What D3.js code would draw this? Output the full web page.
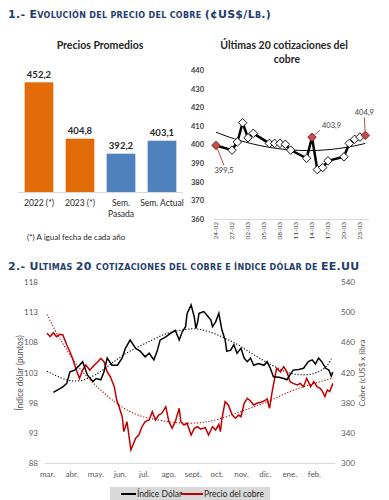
<!DOCTYPE html>
<html>
<head>
<meta charset="utf-8">
<script src="https://cdn.jsdelivr.net/npm/d3@7"></script>
<style>
  body { margin: 0; background: #fff; }
  svg { display: block; }
  text { font-family: Lato, "Open Sans", sans-serif; }
</style>
</head>
<body>
<svg id="chart" width="389" height="500"></svg>
<script>
// ---------- data ----------
var barCats = ["2022 (*)", "2023 (*)", "Sem.|Pasada", "Sem. Actual"];
var barValues = [452.2, 404.8, 392.2, 403.1];
var barColors = ["#E36C0A", "#E36C0A", "#4F81BD", "#4F81BD"];

// ultimas cotizaciones (dd-mm, 2023)
var lastDates = ["24-02", "27-02", "28-02", "01-03", "02-03", "03-03", "06-03", "07-03", "08-03", "09-03", "10-03",
                 "13-03", "14-03", "15-03", "16-03", "17-03", "20-03", "21-03", "22-03", "23-03", "24-03"];
var lastValues = [399.5, 397.0, 401.3, 411.7, 403.6, 406.0, 400.6, 400.6, 400.6, 400.1, 397.0,
                  392.6, 403.9, 386.5, 387.6, 391.2, 393.4, 400.6, 402.8, 404.0, 404.9];
var lastTicks = ["24-02", "27-02", "02-03", "05-03", "08-03", "11-03", "14-03", "17-03", "20-03", "23-03"];
var lastYTicks = [360, 370, 380, 390, 400, 410, 420, 430, 440];
var lastLabelled = [0, 12, 20];

// indice dolar (puntos)
var dollar = [["2022-03-09",99.7],["2022-03-21",100.6],["2022-03-26",101.2],["2022-03-30",103.1],["2022-04-05",103.4],
  ["2022-04-11",104.2],["2022-04-15",104.8],["2022-04-21",102.6],["2022-04-28",101.5],["2022-05-02",102.0],
  ["2022-05-08",101.8],["2022-05-12",103.1],["2022-05-16",105.4],["2022-05-22",104.2],["2022-05-29",104.2],
  ["2022-06-04",105.4],["2022-06-08",107.0],["2022-06-14",108.4],["2022-06-21",107.0],["2022-06-27",106.5],
  ["2022-07-03",105.6],["2022-07-08",106.2],["2022-07-14",105.1],["2022-07-18",106.5],["2022-07-22",108.4],
  ["2022-07-29",108.9],["2022-08-04",109.5],["2022-08-10",110.0],["2022-08-15",108.4],["2022-08-19",109.8],
  ["2022-08-23",110.6],["2022-08-25",112.8],["2022-08-30",114.2],["2022-09-03",112.2],["2022-09-05",110.3],
  ["2022-09-07",111.2],["2022-09-09",112.8],["2022-09-15",113.1],["2022-09-19",112.5],["2022-09-24",111.7],
  ["2022-09-26",110.6],["2022-09-30",111.4],["2022-10-04",112.8],["2022-10-08",110.0],["2022-10-12",108.4],
  ["2022-10-14",106.5],["2022-10-19",106.7],["2022-10-23",107.6],["2022-10-27",106.2],["2022-11-01",107.0],
  ["2022-11-05",105.4],["2022-11-09",104.8],["2022-11-13",105.4],["2022-11-17",104.2],["2022-11-23",104.5],
  ["2022-11-30",104.2],["2022-12-04",104.8],["2022-12-08",103.7],["2022-12-12",102.3],["2022-12-19",102.2],
  ["2022-12-25",102.0],["2022-12-29",101.8],["2023-01-02",102.6],["2023-01-06",103.4],["2023-01-13",103.5],
  ["2023-01-19",103.7],["2023-01-25",104.8],["2023-01-30",105.1],["2023-02-03",104.4],["2023-02-07",105.4],
  ["2023-02-11",104.8],["2023-02-16",103.7],["2023-02-20",103.4],["2023-02-23",102.4],["2023-02-25",103.1]];

// precio del cobre (cUS$/lb)
var copper = [["2022-03-01",472],["2022-03-05",467.5],["2022-03-09",472.8],["2022-03-13",467.5],["2022-03-17",470.6],
  ["2022-03-21",469.7],["2022-03-26",456.5],["2022-03-30",447.6],["2022-04-03",436.6],["2022-04-07",423.3],
  ["2022-04-11",412.3],["2022-04-15",423.3],["2022-04-19",430],["2022-04-24",423.3],["2022-04-30",430],
  ["2022-05-04",434.3],["2022-05-08",438.8],["2022-05-12",434.3],["2022-05-16",421],["2022-05-20",414.4],
  ["2022-05-25",401.2],["2022-05-28",383.5],["2022-05-31",374.7],["2022-06-04",361.4],["2022-06-06",341.6],
  ["2022-06-10",354.8],["2022-06-15",317.3],["2022-06-21",332.8],["2022-06-25",337.1],["2022-06-29",348.1],
  ["2022-07-03",354.8],["2022-07-08",357],["2022-07-12",368],["2022-07-16",357],["2022-07-20",363.6],
  ["2022-07-24",365.9],["2022-07-29",374.7],["2022-08-02",354.8],["2022-08-06",346],["2022-08-10",354.8],
  ["2022-08-15",372.5],["2022-08-17",354.8],["2022-08-21",350.4],["2022-08-25",352.7],["2022-08-30",337.1],
  ["2022-09-03",346],["2022-09-07",348.1],["2022-09-11",345],["2022-09-17",346.9],["2022-09-21",337.1],
  ["2022-09-26",348.1],["2022-09-30",343.8],["2022-10-04",351.3],["2022-10-06",341.6],["2022-10-08",359.3],
  ["2022-10-12",381.3],["2022-10-16",376.9],["2022-10-21",363.6],["2022-10-25",359.3],["2022-10-29",363.6],
  ["2022-11-01",361.4],["2022-11-05",379.2],["2022-11-09",385.8],["2022-11-13",382.2],["2022-11-17",376.9],
  ["2022-11-21",379.2],["2022-11-26",380.5],["2022-11-30",382.2],["2022-12-04",384.9],["2022-12-07",372.5],
  ["2022-12-10",392.4],["2022-12-14",414.4],["2022-12-16",425.5],["2022-12-21",421],["2022-12-25",427.7],
  ["2022-12-29",421],["2023-01-02",407.8],["2023-01-06",405.6],["2023-01-11",403.4],["2023-01-15",405.6],
  ["2023-01-19",401.2],["2023-01-23",412.3],["2023-01-28",401.2],["2023-02-01",407.8],["2023-02-05",401.2],
  ["2023-02-09",399],["2023-02-12",394.6],["2023-02-15",388],["2023-02-18",396.8],["2023-02-21",394.6],
  ["2023-02-25",405.6]];

// lineas de tendencia
var dollarTrend = [["2022-03-01",103.2],["2022-03-15",102.3],["2022-03-30",101.5],["2022-04-15",101.6],["2022-05-02",102.6],
  ["2022-05-19",104.2],["2022-06-04",105.9],["2022-06-25",107.3],["2022-07-12",108.4],["2022-07-29",109.5],
  ["2022-08-15",110.0],["2022-09-01",110.3],["2022-09-09",110.2],["2022-09-21",109.8],["2022-10-04",109.2],
  ["2022-10-16",108.4],["2022-10-29",107.6],["2022-11-11",106.4],["2022-11-23",105.5],["2022-12-06",104.5],
  ["2022-12-19",103.6],["2022-12-31",102.9],["2023-01-13",102.6],["2023-01-25",102.6],["2023-02-07",103.0],
  ["2023-02-18",104.0],["2023-02-24",105.5]];
var copperTrend = [["2022-03-01",497],["2022-03-13",472],["2022-03-26",449.8],["2022-04-07",429.9],["2022-04-24",410],
  ["2022-05-10",394.6],["2022-05-27",379.2],["2022-06-13",368],["2022-06-29",361.4],["2022-07-08",359.3],
  ["2022-08-10",352.7],["2022-09-09",352.7],["2022-09-21",354.8],["2022-10-16",361.4],["2022-11-11",372.5],
  ["2022-12-02",379.2],["2022-12-31",394.6],["2023-01-25",403.4],["2023-02-24",412.3]];

var monthLabels = ["mar.", "abr.", "may.", "jun.", "jul.", "ago.", "sept.", "oct.", "nov.", "dic.", "ene.", "feb."];
var leftTicks = [88, 93, 98, 103, 108, 113, 118];
var rightTicks = [300, 340, 380, 420, 460, 500, 540];

var titleColor = "#1F3D6E";
var svg = d3.select("#chart");

// titulo en versalitas
function capsTitle(x, y, str, big, small) {
  var t = svg.append("text").attr("x", x).attr("y", y)
      .style("font-family", "'DejaVu Sans'").style("font-weight", "bold")
      .style("letter-spacing", "0.3px").style("fill", titleColor);
  var runs = [];
  for (var ch of str) {
    var last = runs[runs.length - 1];
    var isSmall = ch !== ch.toUpperCase();
    if (last && (ch === " " || last.small === isSmall)) last.s += ch;
    else runs.push({small: isSmall, s: ch});
  }
  runs.forEach(function(r) {
    t.append("tspan").style("font-size", (r.small ? small : big) + "px")
      .text(r.small ? r.s.toUpperCase() : r.s);
  });
}

capsTitle(8, 18, "1.- Evolución del precio del cobre (¢US$/Lb.)", 11, 8);
capsTitle(8, 270, "2.- Ultimas 20 cotizaciones del cobre e índice dólar de EE.UU", 11, 8);

///////////////////////////// Precios Promedios /////////////////////////////
var xb = d3.scaleBand().domain(barCats).range([18.5, 182.5]).paddingInner(0.3).paddingOuter(0.15);
var yb = d3.scaleLinear().domain([360, 460]).range([192, 73]);

svg.append("text").attr("x", 100).attr("y", 49).attr("text-anchor", "middle")
  .style("font-size", "10.5px").style("font-weight", "bold").style("fill", "#262626")
  .text("Precios Promedios");

svg.selectAll(".bar").data(barValues).enter().append("rect")
  .attr("class", "bar")
  .attr("x", function(d, i) { return xb(barCats[i]); })
  .attr("y", function(d) { return yb(d); })
  .attr("width", xb.bandwidth())
  .attr("height", function(d) { return yb(360) - yb(d); })
  .style("fill", function(d, i) { return barColors[i]; });

svg.append("line").attr("x1", 18).attr("x2", 183).attr("y1", 192.5).attr("y2", 192.5)
  .style("stroke", "#d9d9d9").style("stroke-width", 1);

svg.selectAll(".barLabel").data(barValues).enter().append("text")
  .attr("x", function(d, i) { return xb(barCats[i]) + xb.bandwidth() / 2; })
  .attr("y", function(d) { return yb(d) - 4.5; })
  .attr("text-anchor", "middle")
  .style("font-size", "9.5px").style("font-weight", "bold").style("fill", "#262626")
  .text(function(d) { return d3.format(".1f")(d).replace(".", ","); });

barCats.forEach(function(c) {
  c.split("|").forEach(function(line, j) {
    svg.append("text").attr("x", xb(c) + xb.bandwidth() / 2).attr("y", 206 + j * 10.5)
      .attr("text-anchor", "middle").style("font-size", "8.5px").style("fill", "#262626")
      .text(line);
  });
});

svg.append("text").attr("x", 27).attr("y", 240)
  .style("font-size", "8px").style("fill", "#262626").text("(*) A igual fecha de cada año");

///////////////////////////// Ultimas 20 cotizaciones /////////////////////////////
var parseDM = d3.timeParse("%d-%m-%Y");
var lastPts = lastDates.map(function(d, i) { return {date: parseDM(d + "-2023"), value: lastValues[i]}; });

var x2 = d3.scaleTime().domain([parseDM("24-02-2023"), parseDM("24-03-2023")]).range([216, 365.3]);
var y2 = d3.scaleLinear().domain([360, 440]).range([219, 70]);

svg.append("text").attr("x", 284).attr("y", 49).attr("text-anchor", "middle")
  .style("font-size", "10.5px").style("font-weight", "bold").style("fill", "#262626")
  .text("Últimas 20 cotizaciones del");
svg.append("text").attr("x", 287).attr("y", 63).attr("text-anchor", "middle")
  .style("font-size", "10.5px").style("font-weight", "bold").style("fill", "#262626")
  .text("cobre");

var yAxis2 = svg.append("g").attr("transform", "translate(204,0)")
  .call(d3.axisLeft(y2).tickValues(lastYTicks).tickSize(0).tickPadding(0));
yAxis2.select(".domain").remove();
yAxis2.selectAll("text").style("font-family", "Lato").style("font-size", "7.5px")
  .style("font-weight", "bold").style("fill", "#404040");

svg.append("line").attr("x1", 213).attr("x2", 369).attr("y1", 219.5).attr("y2", 219.5)
  .style("stroke", "#d9d9d9");

svg.selectAll(".lastTick").data(lastTicks).enter().append("text")
  .attr("transform", function(d) { return "translate(" + x2(parseDM(d + "-2023")) + ",222) rotate(-90)"; })
  .attr("dy", "0.35em").attr("text-anchor", "end")
  .style("font-size", "6.5px").style("fill", "#404040")
  .text(function(d) { return d; });

// tendencia polinomica de orden 2
var t0 = lastPts[0].date;
var tx = lastPts.map(function(p) { return (p.date - t0) / 864e5; });
function quadFit(xs, ys) {
  var S = [0, 0, 0, 0, 0], T = [0, 0, 0];
  xs.forEach(function(x, i) {
    for (var k = 0; k < 5; k++) S[k] += Math.pow(x, k);
    for (var k = 0; k < 3; k++) T[k] += ys[i] * Math.pow(x, k);
  });
  var A = [[S[0], S[1], S[2], T[0]], [S[1], S[2], S[3], T[1]], [S[2], S[3], S[4], T[2]]];
  for (var c = 0; c < 3; c++) {
    for (var r = c + 1; r < 3; r++) {
      var f = A[r][c] / A[c][c];
      for (var k = c; k < 4; k++) A[r][k] -= f * A[c][k];
    }
  }
  var b = [0, 0, 0];
  for (var r = 2; r >= 0; r--) {
    var s = A[r][3];
    for (var k = r + 1; k < 3; k++) s -= A[r][k] * b[k];
    b[r] = s / A[r][r];
  }
  return function(x) { return b[0] + b[1] * x + b[2] * x * x; };
}
var fit = quadFit(tx, lastValues);
var trendDays = d3.range(0, tx[tx.length - 1] + 0.01, 0.5);
svg.append("path").datum(trendDays)
  .attr("d", d3.line().x(function(d) { return x2(d3.timeHour.offset(t0, d * 24)); }).y(function(d) { return y2(fit(d)); }))
  .style("fill", "none").style("stroke", "#000").style("stroke-width", 1);

svg.append("path").datum(lastPts)
  .attr("d", d3.line().x(function(d) { return x2(d.date); }).y(function(d) { return y2(d.value); }))
  .style("fill", "none").style("stroke", "#000").style("stroke-width", 2.5);

var diamond = d3.symbol().type(d3.symbolDiamond2).size(46);
svg.selectAll(".mk").data(lastPts).enter().append("path")
  .attr("d", diamond)
  .attr("transform", function(d) { return "translate(" + x2(d.date) + "," + y2(d.value) + ")"; })
  .style("fill", function(d, i) { return lastLabelled.indexOf(i) >= 0 ? "#C0504D" : "#fff"; })
  .style("stroke", function(d, i) { return lastLabelled.indexOf(i) >= 0 ? "#8B1A1A" : "#000"; })
  .style("stroke-width", 0.9);

var labelOff = [[8, 26], [17, -9], [-1, -20]];
lastLabelled.forEach(function(idx, j) {
  var p = lastPts[idx], px = x2(p.date), py = y2(p.value);
  var lx = px + labelOff[j][0], ly = py + labelOff[j][1];
  svg.append("line").attr("x1", px).attr("y1", py)
    .attr("x2", j === 1 ? lx - 9 : lx).attr("y2", j === 0 ? ly - 6 : ly + 2)
    .style("stroke", "#C0504D").style("stroke-width", 1);
  svg.append("text").attr("x", j === 1 ? lx - 7 : lx).attr("y", j === 0 ? ly + 2 : ly)
    .attr("text-anchor", j === 1 ? "start" : "middle")
    .style("font-size", "7.5px").style("fill", "#404040")
    .text(d3.format(".1f")(p.value).replace(".", ","));
});

///////////////////////////// Cobre vs indice dolar /////////////////////////////
var parseD = d3.timeParse("%Y-%m-%d");
function toPts(arr) { return arr.map(function(d) { return {date: parseD(d[0]), value: d[1]}; }); }

var x3 = d3.scaleTime().domain([new Date(2022, 2, 1), new Date(2023, 2, 1)]).range([47, 336]);
var yL = d3.scaleLinear().domain([88, 118]).range([463, 282]);
var yR = d3.scaleLinear().domain([300, 540]).range([463, 282]);

svg.append("line").attr("x1", 45).attr("x2", 335).attr("y1", 463.5).attr("y2", 463.5)
  .style("stroke", "#d9d9d9");

var axL = svg.append("g").attr("transform", "translate(38,0)")
  .call(d3.axisLeft(yL).tickValues(leftTicks).tickSize(0).tickPadding(0));
var axR = svg.append("g").attr("transform", "translate(341,0)")
  .call(d3.axisRight(yR).tickValues(rightTicks).tickSize(0).tickPadding(0));
var months = d3.timeMonth.range(new Date(2022, 2, 1), new Date(2023, 2, 1));
var axB = svg.append("g").attr("transform", "translate(0,463)")
  .call(d3.axisBottom(x3).tickValues(months).tickSize(0).tickPadding(8)
    .tickFormat(function(d, i) { return monthLabels[i]; }));
[axL, axR, axB].forEach(function(a) {
  a.select(".domain").remove();
  a.selectAll("text").style("font-family", "Lato").style("font-size", "8px").style("fill", "#595959");
});

svg.append("text").attr("transform", "translate(23,373) rotate(-90)").attr("text-anchor", "middle")
  .style("font-size", "8.5px").style("fill", "#595959").text("Índice dólar (puntos)");
svg.append("text").attr("transform", "translate(365,373) rotate(-90)").attr("text-anchor", "middle")
  .style("font-size", "8px").style("fill", "#595959").text("Cobre (cUS$ x libra");

var lineL = d3.line().x(function(d) { return x3(d.date); }).y(function(d) { return yL(d.value); });
var lineR = d3.line().x(function(d) { return x3(d.date); }).y(function(d) { return yR(d.value); });

svg.append("path").datum(toPts(dollarTrend)).attr("d", lineL.curve(d3.curveBasis))
  .style("fill", "none").style("stroke", "#000").style("stroke-width", 1.1).style("stroke-dasharray", "1.2,1.8");
svg.append("path").datum(toPts(copperTrend)).attr("d", lineR.curve(d3.curveBasis))
  .style("fill", "none").style("stroke", "#C00000").style("stroke-width", 1.1).style("stroke-dasharray", "1.2,1.8");

lineL.curve(d3.curveLinear);
lineR.curve(d3.curveLinear);
svg.append("path").datum(toPts(copper)).attr("d", lineR)
  .style("fill", "none").style("stroke", "#C00000").style("stroke-width", 1.5);
svg.append("path").datum(toPts(dollar)).attr("d", lineL)
  .style("fill", "none").style("stroke", "#000").style("stroke-width", 1.5);

// leyenda
var leg = svg.append("g");
leg.append("rect").attr("x", 110).attr("y", 487).attr("width", 160).attr("height", 13).style("fill", "#d9d9d9");
leg.append("line").attr("x1", 121).attr("x2", 136).attr("y1", 494).attr("y2", 494).style("stroke", "#000").style("stroke-width", 2);
leg.append("text").attr("x", 137).attr("y", 497).style("font-size", "8.5px").style("fill", "#262626").text("Índice Dólar");
leg.append("line").attr("x1", 181).attr("x2", 203).attr("y1", 494).attr("y2", 494).style("stroke", "#C00000").style("stroke-width", 2);
leg.append("text").attr("x", 204).attr("y", 497).style("font-size", "8.5px").style("fill", "#262626").text("Precio del cobre");
</script>
</body>
</html>
